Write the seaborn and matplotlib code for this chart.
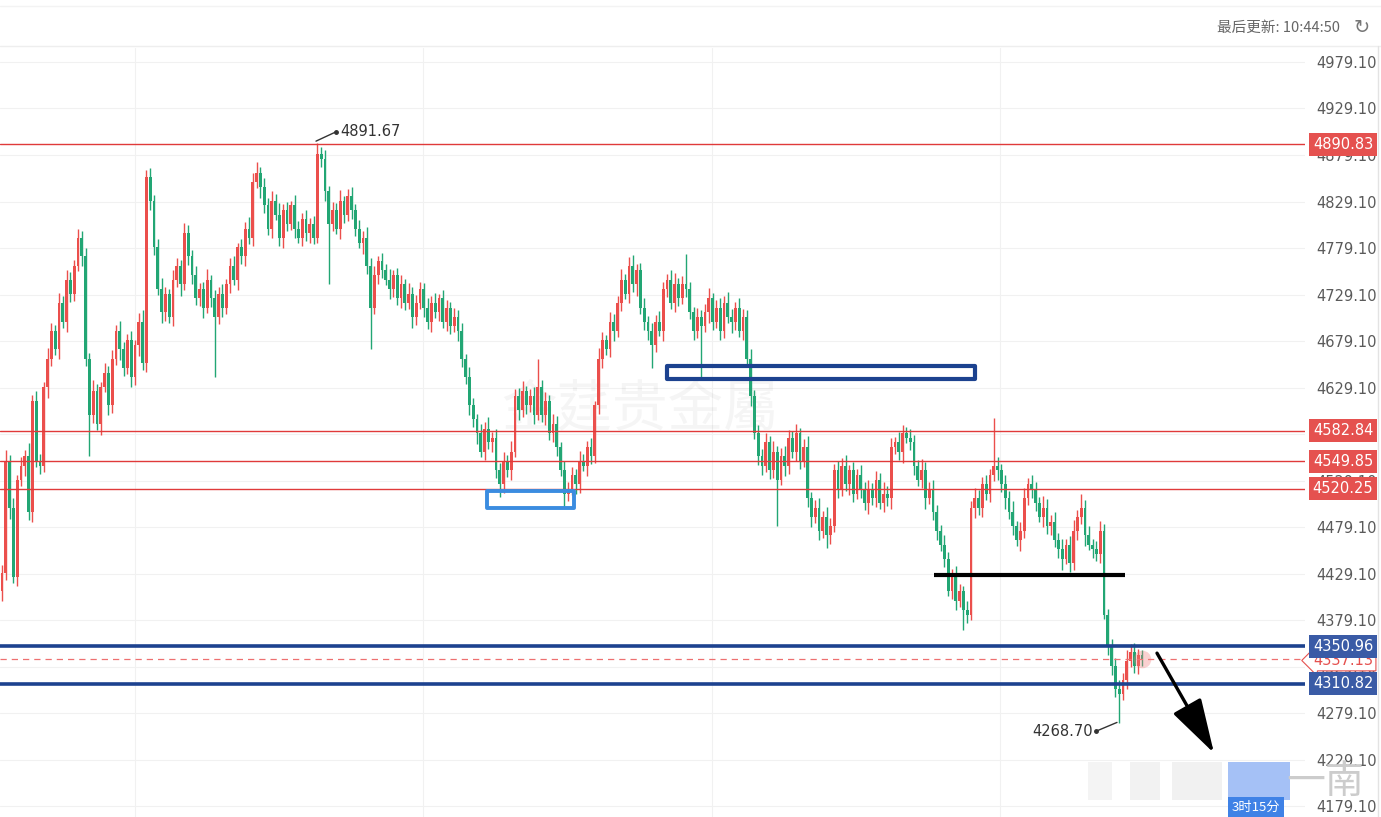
import numpy as np
import pandas as pd
import matplotlib
matplotlib.use("Agg")
import matplotlib.pyplot as plt
import matplotlib.transforms as mtransforms
from matplotlib.patches import Rectangle
import seaborn as sns

# ---- data (15 min candles) ----
first_open = 4410
closes = [
    4430, 4550, 4500, 4425, 4530, 4545, 4555, 4495, 4615, 4550,
    4545, 4630, 4660, 4690, 4670, 4720, 4700, 4745, 4730, 4760,
    4790, 4770, 4660, 4600, 4625, 4590, 4630, 4645, 4610, 4660,
    4690, 4670, 4650, 4680, 4640, 4675, 4700, 4655, 4855, 4830,
    4780, 4735, 4710, 4730, 4705, 4745, 4760, 4740, 4795, 4770,
    4750, 4725, 4735, 4715, 4745, 4725, 4705, 4730, 4715, 4740,
    4760, 4745, 4780, 4770, 4800, 4790, 4850, 4860, 4845, 4825,
    4800, 4830, 4815, 4790, 4820, 4805, 4825, 4800, 4790, 4810,
    4795, 4805, 4790, 4880, 4875, 4840, 4805, 4820, 4800, 4830,
    4815, 4835, 4820, 4800, 4785, 4790, 4760, 4715, 4750, 4765,
    4755, 4745, 4735, 4750, 4725, 4740, 4720, 4730, 4705, 4720,
    4735, 4715, 4700, 4720, 4710, 4725, 4700, 4715, 4695, 4705,
    4690, 4660, 4640, 4610, 4595, 4580, 4560, 4585, 4570, 4575,
    4540, 4525, 4550, 4540, 4560, 4620, 4605, 4625, 4610, 4620,
    4600, 4630, 4600, 4615, 4580, 4590, 4565, 4540, 4515, 4520,
    4535, 4525, 4550, 4545, 4565, 4555, 4610, 4660, 4680, 4670,
    4700, 4690, 4720, 4745, 4730, 4760, 4740, 4755, 4715, 4700,
    4690, 4675, 4700, 4690, 4735, 4745, 4720, 4740, 4725, 4740,
    4735, 4710, 4690, 4705, 4695, 4710, 4725, 4700, 4715, 4690,
    4720, 4705, 4700, 4715, 4690, 4705, 4660, 4620, 4580, 4555,
    4545, 4570, 4540, 4560, 4530, 4555, 4545, 4575, 4560, 4580,
    4550, 4565, 4510, 4490, 4500, 4475, 4490, 4470, 4480, 4540,
    4520, 4545, 4525, 4540, 4515, 4535, 4520, 4505, 4520, 4510,
    4530, 4505, 4515, 4510, 4565, 4570, 4560, 4580, 4575, 4570,
    4545, 4530, 4540, 4510, 4520, 4495, 4475, 4460, 4445, 4410,
    4425, 4400, 4410, 4390, 4385, 4500, 4510, 4500, 4525, 4515,
    4535, 4545, 4540, 4525, 4510, 4495, 4480, 4465, 4475, 4510,
    4525, 4520, 4505, 4490, 4500, 4480, 4485, 4465, 4455, 4445,
    4460, 4440, 4475, 4490, 4500, 4470, 4460, 4455, 4450, 4475,
    4385, 4350, 4330, 4305, 4300, 4315, 4335, 4345, 4330, 4342,
    4337.13,
]
# wick length above / below the body
wick_up = [
    8, 12, 6, 10, 5, 9, 7, 14, 6, 10,
    8, 5, 12, 9, 6, 11, 7, 10, 8, 6,
    10, 7, 9, 6, 12, 8, 5, 10, 7, 9,
    6, 11, 8, 7, 10, 5, 9, 12, 8, 10,
    6, 9, 12, 7, 5, 10, 8, 6, 11, 9,
    7, 10, 6, 8, 12, 5, 9, 7, 10, 6,
    8, 11, 5, 9, 7, 12, 10, 12, 6, 9,
    8, 10, 7, 12, 6, 9, 5, 11, 8, 7,
    10, 6, 9, 11.67, 8, 10, 6, 9, 7, 11,
    5, 8, 10, 6, 9, 7, 12, 8, 10, 6,
    9, 7, 11, 5, 8, 10, 6, 12, 7, 9,
    8, 6, 10, 7, 11, 5, 9, 8, 6, 10,
    7, 9, 5, 11, 8, 6, 10, 7, 12, 6,
    9, 8, 10, 6, 12, 7, 9, 11, 6, 8,
    10, 30, 7, 9, 6, 11, 8, 5, 10, 7,
    9, 6, 11, 8, 7, 10, 5, 12, 9, 6,
    10, 8, 7, 11, 6, 9, 12, 7, 8, 10,
    6, 9, 7, 11, 8, 6, 10, 12, 7, 9,
    33, 8, 6, 10, 7, 9, 11, 6, 8, 10,
    7, 12, 9, 6, 10, 8, 7, 11, 6, 9,
    8, 10, 7, 12, 6, 9, 11, 8, 7, 10,
    6, 9, 12, 7, 8, 10, 6, 11, 9, 7,
    10, 8, 12, 6, 9, 7, 11, 8, 10, 6,
    9, 7, 12, 8, 10, 6, 11, 9, 7, 10,
    8, 6, 12, 9, 7, 10, 8, 6, 11, 7,
    9, 12, 8, 6, 10, 7, 11, 9, 8, 10,
    6, 51, 9, 7, 10, 8, 12, 6, 9, 11,
    7, 10, 8, 6, 12, 9, 7, 10, 8, 11,
    6, 9, 12, 7, 15, 8, 10, 6, 9, 11,
    7, 6, 9, 8, 10, 7, 12, 8, 9, 6,
    5,
]
wick_dn = [
    10, 8, 12, 6, 9, 7, 11, 8, 10, 6,
    9, 7, 12, 8, 6, 10, 7, 11, 9, 8,
    6, 10, 8, 45, 9, 7, 12, 6, 10, 8,
    7, 11, 9, 6, 10, 8, 12, 7, 9, 10,
    8, 6, 11, 9, 7, 10, 8, 12, 6, 9,
    10, 7, 8, 11, 6, 9, 65, 8, 10, 7,
    9, 6, 11, 8, 10, 7, 9, 6, 12, 8,
    7, 10, 6, 9, 11, 8, 7, 10, 6, 9,
    8, 11, 7, 6, 9, 10, 65, 8, 6, 11,
    9, 7, 10, 8, 6, 12, 9, 45, 7, 10,
    8, 6, 11, 9, 7, 10, 8, 6, 12, 9,
    7, 10, 8, 11, 6, 9, 7, 10, 8, 6,
    11, 9, 7, 10, 8, 12, 6, 9, 7, 10,
    8, 14, 9, 7, 10, 6, 11, 8, 9, 7,
    10, 6, 8, 11, 7, 9, 10, 6, 15, 8,
    7, 10, 9, 6, 11, 8, 7, 9, 10, 6,
    8, 11, 7, 9, 6, 10, 8, 12, 7, 9,
    10, 25, 8, 6, 11, 9, 7, 10, 8, 6,
    9, 7, 10, 8, 55, 6, 11, 9, 7, 10,
    8, 6, 12, 9, 7, 10, 8, 11, 6, 9,
    10, 7, 9, 8, 50, 6, 11, 9, 7, 10,
    8, 6, 9, 11, 7, 10, 8, 13, 9, 6,
    10, 8, 7, 11, 9, 6, 10, 8, 12, 7,
    9, 6, 10, 8, 11, 7, 9, 12, 6, 8,
    10, 7, 9, 11, 6, 8, 10, 7, 9, 5,
    8, 10, 7, 22, 9, 6, 11, 8, 10, 7,
    9, 6, 10, 8, 11, 7, 9, 6, 12, 8,
    7, 10, 9, 6, 11, 8, 10, 7, 9, 12,
    6, 9, 7, 10, 8, 11, 6, 9, 7, 10,
    5, 8, 10, 9, 31.3, 7, 10, 6, 8, 9,
    7,
]

red_levels = [4890.83, 4582.84, 4549.85, 4520.25]
blue_levels = [4350.96, 4310.82]
last_price = 4337.13
price_ticks = [4179.10, 4229.10, 4279.10, 4329.10, 4379.10, 4429.10, 4479.10,
               4529.10, 4579.10, 4629.10, 4679.10, 4729.10, 4779.10, 4829.10,
               4879.10, 4929.10, 4979.10]
high_label = "4891.67"
low_label = "4268.70"
update_text = "最后更新: 10:44:50"
timer_text = "3时15分"

# ---- build OHLC ----
df = pd.DataFrame({"close": closes, "up": wick_up, "dn": wick_dn})
df["open"] = [first_open] + closes[:-1]
df["top"] = df[["open", "close"]].max(axis=1)
df["bot"] = df[["open", "close"]].min(axis=1)
df["high"] = df["top"] + df["up"]
df["low"] = df["bot"] - df["dn"]
df["rise"] = df["close"] >= df["open"]

RED = "#eb4f4c"
GREEN = "#22a674"
cols = np.where(df["rise"], RED, GREEN)

sns.set_theme(style="white")
plt.rcParams["font.family"] = ["DejaVu Sans", "Noto Sans CJK SC"]

W, H = 1381, 817
fig = plt.figure(figsize=(W / 100, H / 100), dpi=100)
fig.patch.set_facecolor("white")
ax = fig.add_axes([0, 0, 1305 / W, 769 / H])

# pixel x = 2 + 3.8 * index
ax.set_xlim(-2 / 3.8, 1303 / 3.8)
ax.set_ylim(4167.3, 4994.15)

ax.vlines(df.index, df["low"], df["high"], colors=cols, lw=1.0, zorder=2)
ax.bar(df.index, (df["top"] - df["bot"]).clip(lower=1.5), bottom=df["bot"],
       width=0.72, color=cols, lw=0, zorder=2)

# grid
ax.set_xticks([(135 - 2) / 3.8, (423 - 2) / 3.8, (712 - 2) / 3.8, (1000 - 2) / 3.8])
ax.set_xticklabels([])
ax.set_yticks(price_ticks)
ax.set_yticklabels([f"{p:.2f}" for p in price_ticks])
ax.yaxis.tick_right()
ax.tick_params(axis="y", length=0, pad=8, labelsize=10.5, labelcolor="#5a5a5a")
ax.tick_params(axis="x", length=0)
ax.grid(True, color="#f1f1f1", lw=0.8, zorder=0)
for s in ax.spines.values():
    s.set_visible(False)

# watermark
ax.text(168, 4605, "金莛贵金屬", fontsize=40, color="#000000", alpha=0.04,
        ha="center", va="center", family=["Noto Sans CJK SC"], zorder=1)

# levels
for lv in red_levels:
    ax.axhline(lv, color="#e03a3a", lw=1.0, zorder=3)
for lv in blue_levels:
    ax.axhline(lv, color="#1c428f", lw=2.6, zorder=3)
ax.axhline(last_price, color="#ee7070", lw=0.9, ls=(0, (5, 4)), zorder=3)
ax.scatter([len(df) - 1], [last_price], s=160, color="#f27d7d", alpha=0.35,
           lw=0, zorder=4)

# boxes
ax.add_patch(Rectangle(((667 - 2) / 3.8, 4638.5), (975 - 667) / 3.8, 13.5,
                       fill=False, ec="#1c428f", lw=3, joinstyle="round", zorder=5))
ax.add_patch(Rectangle(((487 - 2) / 3.8, 4499.5), (574 - 487) / 3.8, 18.5,
                       fill=False, ec="#3b8ce0", lw=2.8, joinstyle="round", zorder=5))
ax.plot([(934 - 2) / 3.8, (1125 - 2) / 3.8], [4427, 4427], color="black",
        lw=3, solid_capstyle="butt", zorder=5)

# arrow
ax.annotate("", xy=((1214 - 2) / 3.8, 4236), xytext=((1157 - 2) / 3.8, 4343.5),
            arrowprops=dict(arrowstyle="-|>,head_length=1.7,head_width=0.5",
                            color="black", lw=2.4, mutation_scale=20,
                            shrinkA=0, shrinkB=0), zorder=6)

# high / low marks
ax.plot([(316 - 2) / 3.8, (336 - 2) / 3.8], [4894, 4904], color="#333333", lw=1, zorder=6)
ax.plot([(336 - 2) / 3.8], [4904], "o", color="#333333", ms=2.5, zorder=6)
ax.text((340 - 2) / 3.8, 4904.5, high_label, fontsize=10.5, color="#333333",
        va="center", ha="left", zorder=6)
ax.plot([(1096 - 2) / 3.8, (1117 - 2) / 3.8], [4259.5, 4269], color="#333333", lw=1, zorder=6)
ax.plot([(1096 - 2) / 3.8], [4259.5], "o", color="#333333", ms=2.5, zorder=6)
ax.text((1093 - 2) / 3.8, 4259.5, low_label, fontsize=10.5, color="#333333",
        va="center", ha="right", zorder=6)

# right side price tags
trans = mtransforms.blended_transform_factory(ax.transAxes, ax.transData)
xc = 1343 / 1305
ax.text(xc, last_price - 1.5, f"{last_price:.2f}", transform=trans, ha="center",
        va="center", fontsize=10.5, color="#e5514f", clip_on=False, zorder=9,
        bbox=dict(boxstyle="larrow,pad=0.2", fc="white", ec="#e5514f", lw=0.8))
for lv in red_levels:
    ax.text(xc, lv, f"{lv:.2f}", transform=trans, ha="center", va="center",
            fontsize=10.5, color="white", clip_on=False, zorder=10,
            bbox=dict(boxstyle="square,pad=0.28", fc="#e5514f", ec="none"))
for lv in blue_levels:
    ax.text(xc, lv, f"{lv:.2f}", transform=trans, ha="center", va="center",
            fontsize=10.5, color="white", clip_on=False, zorder=10,
            bbox=dict(boxstyle="square,pad=0.28", fc="#3a5ba6", ec="none"))

# header
fig.add_artist(plt.Line2D([0, 1], [1 - 46 / H, 1 - 46 / H], color="#eeeeee", lw=1))
fig.add_artist(plt.Line2D([0, 1], [1 - 6 / H, 1 - 6 / H], color="#f3f3f3", lw=1))
fig.add_artist(plt.Line2D([1378 / W, 1378 / W], [0, 1 - 46 / H], color="#e3e3e3", lw=1))
fig.text(1340 / W, 1 - 28 / H, update_text, ha="right", va="center", fontsize=10.5,
         color="#666666", family=["Noto Sans CJK SC", "DejaVu Sans"])
fig.text(1362 / W, 1 - 28 / H, "↻", ha="center", va="center", fontsize=14,
         color="#777777")

# bottom blurred stamp
for x0, x1, c, a in [(1088, 1112, "#e2e2e2", 0.35), (1130, 1160, "#dadada", 0.35),
                     (1172, 1222, "#dcdcdc", 0.4), (1228, 1290, "#5b8ff0", 0.55)]:
    fig.add_artist(Rectangle((x0 / W, 1 - 800 / H), (x1 - x0) / W, 38 / H,
                             transform=fig.transFigure, fc=c, ec="none", alpha=a))
fig.text(1325 / W, 1 - 782 / H, "一南", ha="center", va="center", fontsize=28,
         color="#cccccc", family=["Noto Sans CJK SC"])
fig.text(1256 / W, 1 - 807 / H, timer_text, ha="center", va="center", fontsize=9.5,
         color="white", family=["Noto Sans CJK SC", "DejaVu Sans"],
         bbox=dict(boxstyle="square,pad=0.25", fc="#3f82e6", ec="none"))

fig.savefig("out.png", dpi=100)
